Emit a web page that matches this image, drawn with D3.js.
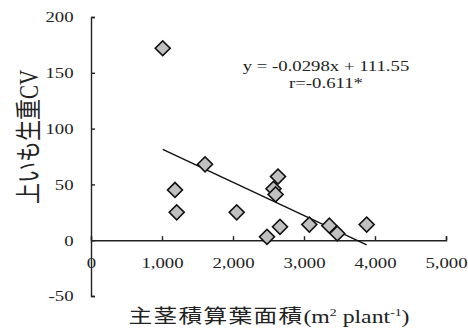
<!DOCTYPE html>
<html>
<head>
<meta charset="utf-8">
<script src="https://cdn.jsdelivr.net/npm/d3@7"></script>
<style>
  body { margin: 0; background: #fff; }
  .serif { font-family: "Liberation Serif", "Times New Roman", "DejaVu Serif", serif; }
  .axis text { font-family: "Liberation Serif", "Times New Roman", "DejaVu Serif", serif; font-size: 15px; fill: #222; }
  .axis path, .axis line { stroke: #222; stroke-width: 1.4; }
</style>
</head>
<body>
<svg id="chart" width="468" height="333"></svg>
<script>
// leaf area of main stem vs CV of tuber fresh weight
var areaX = [1010, 1606, 1183, 1207, 2052, 2634, 2570, 2600, 2662, 2479, 3075, 3357, 3469, 3883];
var cvY = [172, 68, 45, 25, 25, 57, 46, 41, 12, 3, 14, 13, 6, 14];
var xTicks = [0, 1000, 2000, 3000, 4000, 5000];
var yTicks = [-50, 0, 50, 100, 150, 200];
var slope = -0.0298, intercept = 111.55;
var eqLines = ["y = -0.0298x + 111.55", "r=-0.611*"];

var stretch = 1.25; // the original picture is widened a bit

var svg = d3.select("#chart");

var x = d3.scaleLinear().domain([0, 5000]).range([91, 446]);
var y = d3.scaleLinear().domain([-50, 200]).range([296, 17]);

// y axis, ticks pointing inward
svg.append("g")
  .attr("class", "axis")
  .attr("transform", "translate(" + x(0) + ",0)")
  .call(d3.axisLeft(y).tickValues(yTicks).tickSize(-4).tickSizeOuter(-4).tickPadding(14)
    .tickFormat(function (d) { return String(d); }))
  .selectAll("text").attr("transform", "scale(" + stretch + ",1)");

// x axis sits on y = 0
svg.append("g")
  .attr("class", "axis")
  .attr("transform", "translate(0," + y(0) + ")")
  .call(d3.axisBottom(x).tickValues(xTicks).tickSize(-4).tickSizeOuter(-4).tickPadding(17)
    .tickFormat(d3.format(",")))
  .selectAll("text").attr("transform", "scale(" + stretch + ",1)");

// regression line
var x0 = d3.min(areaX), x1 = d3.max(areaX);
svg.append("line")
  .attr("x1", x(x0)).attr("y1", y(slope * x0 + intercept))
  .attr("x2", x(x1)).attr("y2", y(slope * x1 + intercept))
  .attr("stroke", "#111").attr("stroke-width", 1.4);

// points
var diamond = d3.symbol().type(d3.symbolSquare).size(112);
svg.selectAll(".pt")
  .data(areaX)
  .enter()
  .append("path")
  .attr("class", "pt")
  .attr("d", diamond)
  .attr("transform", function (d, i) { return "translate(" + x(d) + "," + y(cvY[i]) + ") rotate(45)"; })
  .attr("fill", "#c0c0c0")
  .attr("stroke", "#111")
  .attr("stroke-width", 1.6);

// equation
svg.selectAll(".eq")
  .data(eqLines)
  .enter()
  .append("text")
  .attr("class", "eq serif")
  .attr("transform", function (d, i) { return "translate(326," + (71 + i * 17) + ") scale(" + stretch + ",1)"; })
  .attr("text-anchor", "middle")
  .style("font-size", "15px")
  .style("fill", "#222")
  .text(function (d) { return d; });

// y title
var yt = svg.append("text")
  .attr("transform", "translate(38,137) scale(" + stretch + ",1) rotate(-90)")
  .attr("text-anchor", "middle")
  .style("font-size", "21px")
  .style("fill", "#222");
yt.append("tspan").style("font-family", "Noto Sans CJK JP").text("上いも生重");
yt.append("tspan").attr("class", "serif").text("CV");

// x title
var xt = svg.append("text")
  .attr("transform", "translate(269,323) scale(" + stretch + ",1)")
  .attr("text-anchor", "middle")
  .style("font-size", "19px")
  .style("fill", "#222");
xt.append("tspan").style("font-family", "Noto Sans CJK JP").style("letter-spacing", "1px").text("主茎積算葉面積");
xt.append("tspan").attr("class", "serif").text("(m");
xt.append("tspan").attr("class", "serif").style("font-size", "11px").attr("dy", -7).text("2");
xt.append("tspan").attr("class", "serif").attr("dy", 7).text(" plant");
xt.append("tspan").attr("class", "serif").style("font-size", "11px").attr("dy", -7).text("-1");
xt.append("tspan").attr("class", "serif").attr("dy", 7).text(")");
</script>
</body>
</html>
